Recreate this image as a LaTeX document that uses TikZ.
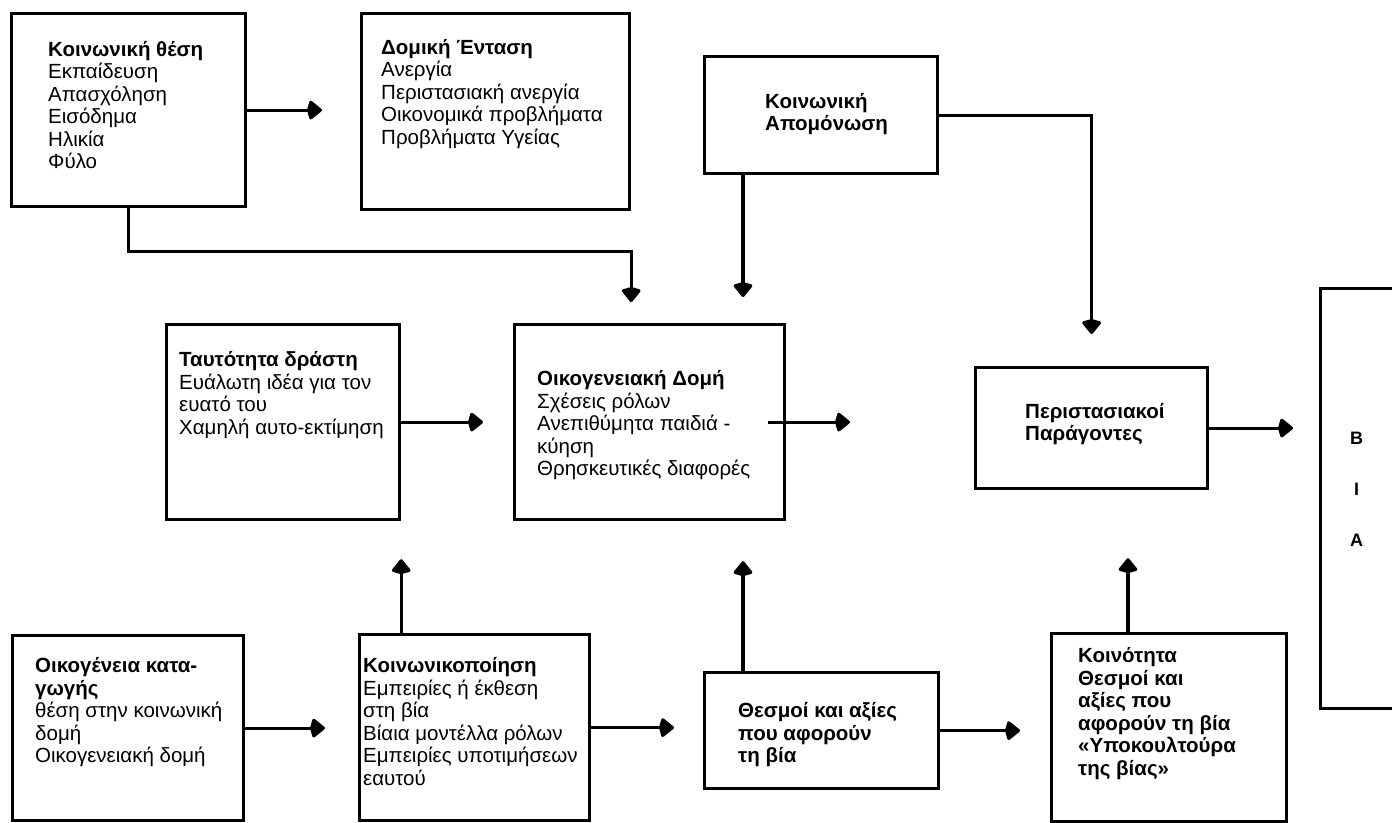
\documentclass[tikz,border=0pt]{standalone}
\usepackage{fontspec}
\setmainfont{Liberation Sans}
\usetikzlibrary{arrows.meta,positioning,calc}

\begin{document}
\begin{tikzpicture}[
  x=1pt, y=-1pt,
  >={Kite[length=16pt,width=21pt,inset=3pt,round]},
  box/.style={draw,line width=3.2pt,anchor=north west,inner sep=0pt},
  txt/.style={align=left,inner sep=0pt,font=\fontsize{20.5}{22.5}\selectfont},
  btxt/.style={txt,font=\fontsize{20.5}{22.5}\selectfont\bfseries},
  bigtxt/.style={align=center,inner sep=0pt,font=\fontsize{18}{51}\selectfont\bfseries},
  arr/.style={->,line width=3.2pt}
]
\useasboundingbox (0,0) rectangle (1392,822);

% boxes
\node[box,minimum width=234pt,minimum height=193pt] (soc)    at (10,12)    {};
\node[box,minimum width=268pt,minimum height=196pt] (str)    at (360,12)   {};
\node[box,minimum width=233pt,minimum height=117pt] (iso)    at (703,55)   {};
\node[box,minimum width=233pt,minimum height=195pt] (ident)  at (165,323)  {};
\node[box,minimum width=270pt,minimum height=195pt] (famstr) at (513,323)  {};
\node[box,minimum width=232pt,minimum height=121pt] (peri)   at (974,366)  {};
\node[box,minimum width=80pt, minimum height=420pt] (bia)    at (1319,287) {};
\node[box,minimum width=231pt,minimum height=185pt] (orig)   at (11,634)   {};
\node[box,minimum width=230pt,minimum height=186pt] (soc2)   at (358,633)  {};
\node[box,minimum width=234pt,minimum height=116pt] (inst)   at (703,671)  {};
\node[box,minimum width=235pt,minimum height=188pt] (comm)   at (1050,632) {};

% texts
\node[txt,right=38pt of soc.west,yshift=5pt] (soc-t)
  {\textbf{Κοινωνική θέση}\\Εκπαίδευση\\Απασχόληση\\Εισόδημα\\Ηλικία\\Φύλο};
\node[txt,right=21pt of str.west,yshift=18pt] (str-t)
  {\textbf{Δομική Ένταση}\\Ανεργία\\Περιστασιακή ανεργία\\Οικονομικά προβλήματα\\Προβλήματα Υγείας};
\node[btxt,right=62pt of iso.west,yshift=1pt] (iso-t)
  {Κοινωνική\\Απομόνωση};
\node[txt,right=14pt of ident.west,yshift=27pt] (ident-t)
  {\textbf{Ταυτότητα δράστη}\\Ευάλωτη ιδέα για τον\\ευατό του\\Χαμηλή αυτο-εκτίμηση};
\node[txt,right=24pt of famstr.west,yshift=-3pt] (famstr-t)
  {\textbf{Οικογενειακή Δομή}\\Σχέσεις ρόλων\\Ανεπιθύμητα παιδιά -\\κύηση\\Θρησκευτικές διαφορές};
\node[btxt,right=51pt of peri.west,yshift=4pt] (peri-t)
  {Περιστασιακοί\\Παράγοντες};
\node[bigtxt,right=31pt of bia.west,yshift=9pt] (bia-t) {Β\\Ι\\Α};
\node[txt,right=24pt of orig.west,yshift=16pt] (orig-t)
  {\textbf{Οικογένεια κατα-}\\\textbf{γωγής}\\θέση στην κοινωνική\\δομή\\Οικογενειακή δομή};
\node[txt,right=5pt of soc2.west,yshift=6pt] (soc2-t)
  {\textbf{Κοινωνικοποίηση}\\Εμπειρίες ή έκθεση\\στη βία\\Βίαια μοντέλλα ρόλων\\Εμπειρίες υποτιμήσεων\\εαυτού};
\node[btxt,right=35pt of inst.west,yshift=-4pt] (inst-t)
  {Θεσμοί και αξίες\\που αφορούν\\τη βία};
\node[btxt,right=28pt of comm.west,yshift=14pt] (comm-t)
  {Κοινότητα\\Θεσμοί και\\αξίες που\\αφορούν τη βία\\«Υποκουλτούρα\\της βίας»};

% connectors
\draw[arr,shorten >=38pt] (soc.east) -- (soc.east -| str.west);
\draw[arr,shorten >=21pt] (soc.south) |- ([yshift=-40pt]str.south east) -- (str.south east |- famstr.north);
\draw[arr,shorten >=26pt] ([xshift=40pt]iso.south west) -- ([xshift=40pt]iso.south west |- famstr.north);
\draw[arr,shorten >=32pt] (iso.east) -| (peri.north);
\draw[arr,shorten >=30pt] (ident.east) -- (ident.east -| famstr.west);
\draw[arr,shorten >=124pt] ([xshift=-18pt]famstr.east) -- (famstr.east -| peri.west);
\draw[arr,shorten >=26pt] (peri.east) -- (peri.east -| bia.west);
\draw[arr,shorten >=33pt] (orig.east) -- (orig.east -| soc2.west);
\draw[arr,shorten >=38pt] (ident.south east |- soc2.north) -- (ident.south east);
\draw[arr,shorten >=29pt] (soc2.east) -- (soc2.east -| inst.west);
\draw[arr,shorten >=40pt] ([xshift=40pt]inst.north west) -- ([xshift=40pt]inst.north west |- famstr.south);
\draw[arr,shorten >=30pt] (inst.east) -- (inst.east -| comm.west);
\draw[arr,shorten >=68pt] ([xshift=78pt]comm.north west) -- ([xshift=78pt]comm.north west |- peri.south);
\end{tikzpicture}
\end{document}
